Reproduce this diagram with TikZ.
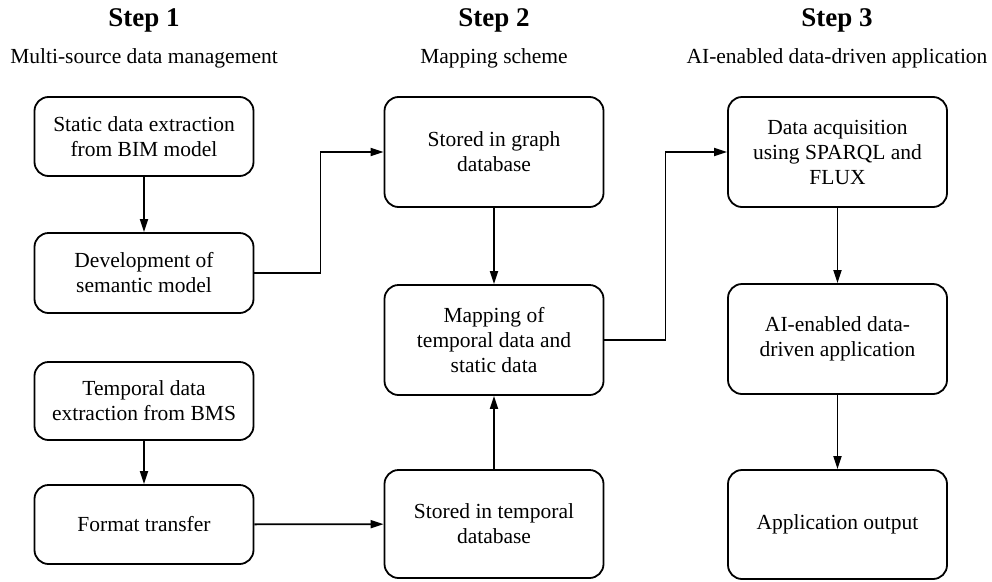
\documentclass[tikz,border=0pt]{standalone}
\usepackage{fontspec}
\setmainfont{Liberation Serif}
\usetikzlibrary{arrows.meta,positioning}

\begin{document}
\begin{tikzpicture}[x=1pt, y=-1pt]
    %
    \tikzset{
        stepbox/.style={draw, line width=1.8pt, rounded corners=14pt, minimum width=219pt,
            align=center, inner sep=0pt, font=\fontsize{21.5}{25}\selectfont},
        steptitle/.style={font=\fontsize{27}{31}\selectfont\bfseries},
        stepsub/.style={font=\fontsize{21.5}{25}\selectfont},
        arr/.style={line width=1.8pt, -{Triangle[length=13pt,width=8pt]}}
    }
    \useasboundingbox (0,0) rectangle (992,581);

    %
    \node[steptitle] (t1) at (144,20) {Step 1};
    \node[stepsub] (u1) at (144,58) {Multi-source data management};
    \node[steptitle] (t2) at (494,20) {Step 2};
    \node[stepsub] (u2) at (494,58) {Mapping scheme};
    \node[steptitle] (t3) at (837,20) {Step 3};
    \node[stepsub] (u3) at (837,58) {AI-enabled data-driven application};

    %
    \node[stepbox, minimum height=79pt] (static) at (144,136.5) {Static data extraction\\from BIM model};
    \node[stepbox, minimum height=80pt] (semantic) at (144,273) {Development of\\semantic model};
    \node[stepbox, minimum height=78pt] (temporal) at (144,401) {Temporal data\\extraction from BMS};
    \node[stepbox, minimum height=79pt] (format) at (144,524.5) {Format transfer};

    %
    \node[stepbox, minimum height=110pt] (graphdb) at (494,152) {Stored in graph\\database};
    \node[stepbox, minimum height=110pt] (mapping) at (494,340) {Mapping of\\temporal data and\\static data};
    \node[stepbox, minimum height=108pt] (tempdb) at (494,524) {Stored in temporal\\database};

    %
    \node[stepbox, minimum height=110pt] (acquire) at (837.5,152) {Data acquisition\\using SPARQL and\\FLUX};
    \node[stepbox, minimum height=110pt] (aiapp) at (837.5,339) {AI-enabled data-\\driven application};
    \node[stepbox, minimum height=109pt] (output) at (837.5,524.5) {Application output};

    %
    \draw[arr] (static) -- (semantic);
    \draw[arr] (temporal) -- (format);
    \draw[arr] (semantic.east) -- ++(66,0) |- (graphdb.west);
    \draw[arr] (format) -- (tempdb);
    \draw[arr] (graphdb) -- (mapping);
    \draw[arr] (tempdb) -- (mapping);
    \draw[arr] (mapping.east) -- ++(61,0) |- (acquire.west);
    \draw[arr] (acquire) -- (aiapp);
    \draw[arr] (aiapp) -- (output);

\end{tikzpicture}
\end{document}
